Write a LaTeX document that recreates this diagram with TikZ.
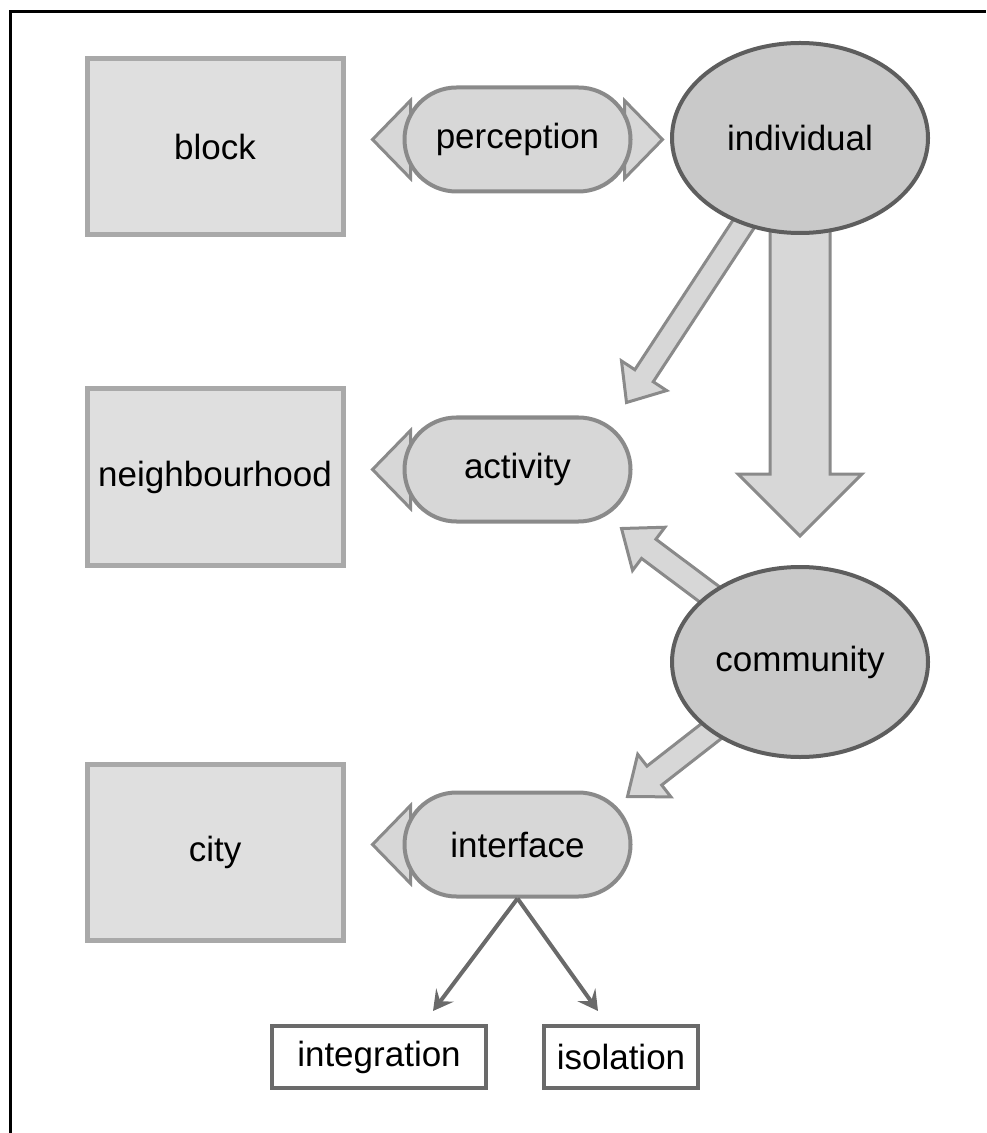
\documentclass[tikz,border=0pt]{standalone}
\usepackage{fontspec}
\setmainfont{Liberation Sans}
\usetikzlibrary{positioning,arrows.meta,calc,backgrounds,shapes.geometric}

\definecolor{boxfill}{HTML}{DFDFDF}
\definecolor{boxline}{HTML}{A9A9A9}
\definecolor{pillfill}{HTML}{D7D7D7}
\definecolor{pillline}{HTML}{8A8A8A}
\definecolor{ovalfill}{HTML}{C9C9C9}
\definecolor{ovalline}{HTML}{5E5E5E}
\definecolor{darkline}{HTML}{6A6A6A}

% block arrow: from, to, half shaft, half head, head length
\newcommand{\BlockArrow}[5]{%
  \coordinate (hb) at ($(#2)!#5!(#1)$);
  \draw[blockarrow] ($(#1)!#3!90:(#2)$) -- ($(hb)!#3!90:(#2)$)
    -- ($(hb)!#4!90:(#2)$) -- (#2) -- ($(hb)!#4!-90:(#2)$)
    -- ($(hb)!#3!-90:(#2)$) -- ($(#1)!#3!-90:(#2)$) -- cycle;}
% triangle tab behind a pill: node, anchor, sign
\newcommand{\PillTab}[3]{%
  \draw[blockarrow] ([xshift=#3*4pt,yshift=19.5pt]#1.#2)
    -- ([xshift=-#3*15pt]#1.#2) -- ([xshift=#3*4pt,yshift=-19.5pt]#1.#2) -- cycle;}

\begin{document}
\begin{tikzpicture}[x=0.5pt, y=-0.5pt, >=Stealth,
  every node/.style={font=\fontsize{17.5pt}{21pt}\selectfont, inner sep=0pt},
  place/.style={draw=boxline, fill=boxfill, line width=2.5pt,
    minimum width=128pt, minimum height=88pt},
  pill/.style={draw=pillline, fill=pillfill, line width=2pt,
    minimum width=113pt, minimum height=52pt, rounded corners=26pt},
  oval/.style={ellipse, draw=ovalline, fill=ovalfill, line width=2pt,
    minimum width=128pt, minimum height=95pt},
  outcome/.style={draw=darkline, fill=white, line width=2pt,
    minimum height=31pt},
  blockarrow/.style={draw=pillline, fill=pillfill, line width=1.5pt},
  thinarrow/.style={draw=darkline, line width=2pt,
    -{Stealth[length=10pt,width=11pt,inset=4pt]}}]
  \useasboundingbox (0,0) rectangle (986,1133);
  \draw[line width=1.5pt] (10,1133) -- (10,12) -- (986,12);

  \node[place] (block) at (215,147) {block};
  \node[place] (hood) [below=74.5pt of block] {neighbourhood};
  \node[place] (city) [below=97pt of hood] {city};

  \node[pill] (perception) [right=28.5pt of block, yshift=3.75pt] {perception};
  \node[pill] (activity) [right=28.5pt of hood, yshift=3.75pt] {activity};
  \node[pill] (interface) [right=28.5pt of city, yshift=3.75pt] {interface};

  \node[oval] (individual) at (800,138) {individual};
  \node[oval] (community) at (800,662) {community};

  \node[outcome, minimum width=107pt] (integration) at (379,1057) {integration};
  \node[outcome, minimum width=77pt] (isolation) at (621,1057) {isolation};

  \coordinate (bigtip) at ([yshift=14.5pt]community.north);
  \coordinate (acttip) at ([xshift=-3pt,yshift=6.5pt]activity.north east);
  \coordinate (backtip) at ([xshift=-5.5pt,yshift=-2.5pt]activity.south east);
  \coordinate (inttip) at ([xshift=-2.5pt,yshift=-3pt]interface.north east);

  \begin{scope}[on background layer]
    \BlockArrow{individual.center}{bigtip}{15pt}{31pt}{31pt}
    \BlockArrow{individual.center}{acttip}{5.5pt}{13.5pt}{16pt}
    \BlockArrow{community.center}{backtip}{6pt}{13.5pt}{17pt}
    \BlockArrow{community.center}{inttip}{6pt}{13.5pt}{17pt}
    \PillTab{perception}{west}{1}
    \PillTab{perception}{east}{-1}
    \PillTab{activity}{west}{1}
    \PillTab{interface}{west}{1}
  \end{scope}

  \draw[thinarrow] (interface.south) -- ([xshift=27pt,yshift=6.5pt]integration.north);
  \draw[thinarrow] (interface.south) -- ([xshift=-11.5pt,yshift=6.5pt]isolation.north);
\end{tikzpicture}
\end{document}
